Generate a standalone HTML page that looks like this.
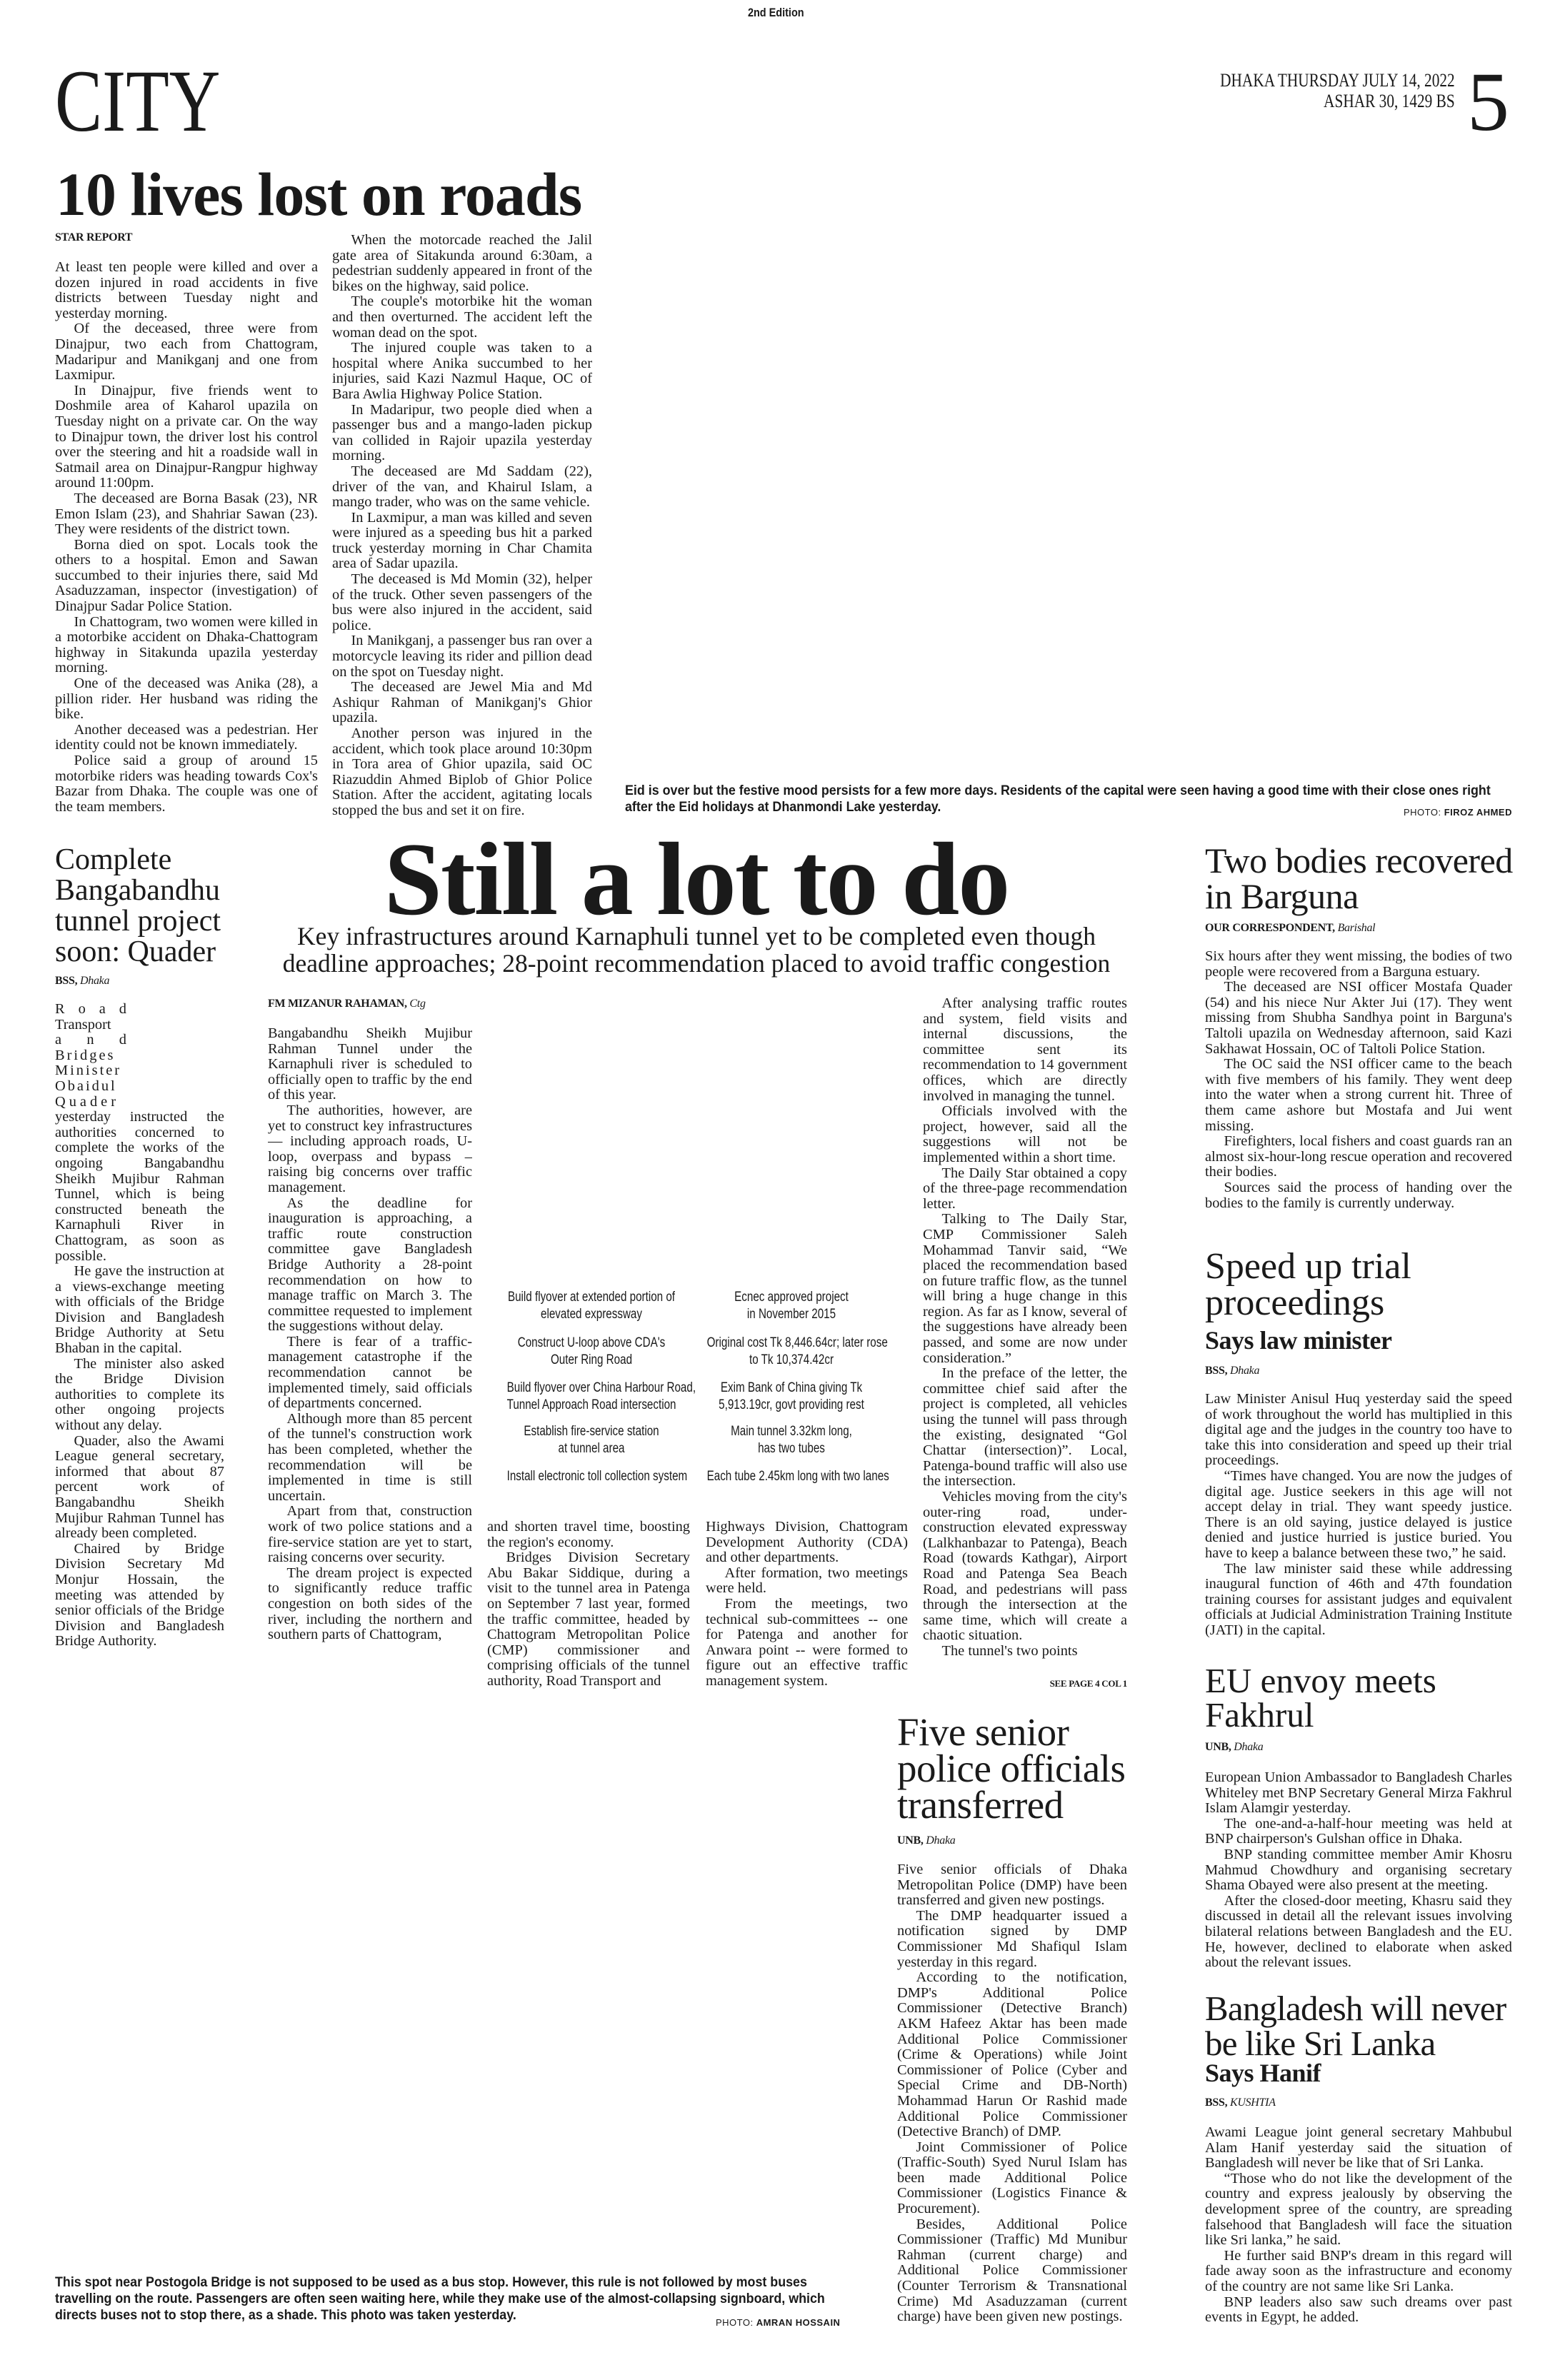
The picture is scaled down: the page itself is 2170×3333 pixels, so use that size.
<!DOCTYPE html>
<html><head><meta charset="utf-8">
<style>
*{margin:0;padding:0;box-sizing:border-box}
body{width:2170px;height:3333px;background:#fff;position:relative;overflow:hidden;color:#1a1a1a;font-family:"Liberation Serif",serif}
.a{position:absolute}
.b{font-size:20.4px;line-height:21.6px;text-align:justify;hyphens:auto;overflow:hidden}
.b p{text-indent:1.3em}
.b p.n{text-indent:0}
.by{font-size:16px;font-weight:bold;letter-spacing:-0.3px}
.by i{font-weight:normal}
.h{font-weight:normal;color:#1a1a1a}
.cap{font-family:"Liberation Sans",sans-serif;font-weight:bold;font-size:19px;line-height:23px;transform:scaleX(0.94);transform-origin:left top;white-space:nowrap}
.tb{font-family:"Liberation Sans",sans-serif;font-size:19px;line-height:24px;text-align:center;transform:scaleX(0.8);white-space:nowrap}
</style></head><body>

<div class="a" style="left:1040px;top:8px;font-family:'Liberation Sans',sans-serif;font-weight:bold;font-size:17px;transform:scaleX(0.85)">2nd Edition</div>
<div class="a" style="left:77px;top:82px;font-size:124px;line-height:120px;transform:scaleX(0.8);transform-origin:left top">CITY</div>
<div class="a" style="right:133px;top:98px;font-size:26px;line-height:29px;text-align:right;transform:scaleX(0.82);transform-origin:right top;white-space:nowrap">DHAKA THURSDAY JULY 14, 2022<br>ASHAR 30, 1429 BS</div>
<div class="a" style="left:2054px;top:88px;font-size:118px;line-height:110px">5</div>

<div class="a" style="left:78px;top:224px;font-size:86px;font-weight:bold;line-height:96px;white-space:nowrap;letter-spacing:-1px">10 lives lost on roads</div>
<div class="a by" style="left:77px;top:324px">STAR REPORT</div>

<div class="a b" style="left:77px;top:364px;width:368px;height:780px">
<p class="n">At least ten people were killed and over a dozen injured in road accidents in five districts between Tuesday night and yesterday morning.</p>
<p>Of the deceased, three were from Dinajpur, two each from Chattogram, Madaripur and Manikganj and one from Laxmipur.</p>
<p>In Dinajpur, five friends went to Doshmile area of Kaharol upazila on Tuesday night on a private car. On the way to Dinajpur town, the driver lost his control over the steering and hit a roadside wall in Satmail area on Dinajpur-Rangpur highway around 11:00pm.</p>
<p>The deceased are Borna Basak (23), NR Emon Islam (23), and Shahriar Sawan (23). They were residents of the district town.</p>
<p>Borna died on spot. Locals took the others to a hospital. Emon and Sawan succumbed to their injuries there, said Md Asaduzzaman, inspector (investigation) of Dinajpur Sadar Police Station.</p>
<p>In Chattogram, two women were killed in a motorbike accident on Dhaka-Chattogram highway in Sitakunda upazila yesterday morning.</p>
<p>One of the deceased was Anika (28), a pillion rider. Her husband was riding the bike.</p>
<p>Another deceased was a pedestrian. Her identity could not be known immediately.</p>
<p>Police said a group of around 15 motorbike riders was heading towards Cox's Bazar from Dhaka. The couple was one of the team members.</p>
</div>

<div class="a b" style="left:465px;top:326px;width:364px;height:820px">
<p>When the motorcade reached the Jalil gate area of Sitakunda around 6:30am, a pedestrian suddenly appeared in front of the bikes on the highway, said police.</p>
<p>The couple's motorbike hit the woman and then overturned. The accident left the woman dead on the spot.</p>
<p>The injured couple was taken to a hospital where Anika succumbed to her injuries, said Kazi Nazmul Haque, OC of Bara Awlia Highway Police Station.</p>
<p>In Madaripur, two people died when a passenger bus and a mango-laden pickup van collided in Rajoir upazila yesterday morning.</p>
<p>The deceased are Md Saddam (22), driver of the van, and Khairul Islam, a mango trader, who was on the same vehicle.</p>
<p>In Laxmipur, a man was killed and seven were injured as a speeding bus hit a parked truck yesterday morning in Char Chamita area of Sadar upazila.</p>
<p>The deceased is Md Momin (32), helper of the truck. Other seven passengers of the bus were also injured in the accident, said police.</p>
<p>In Manikganj, a passenger bus ran over a motorcycle leaving its rider and pillion dead on the spot on Tuesday night.</p>
<p>The deceased are Jewel Mia and Md Ashiqur Rahman of Manikganj's Ghior upazila.</p>
<p>Another person was injured in the accident, which took place around 10:30pm in Tora area of Ghior upazila, said OC Riazuddin Ahmed Biplob of Ghior Police Station. After the accident, agitating locals stopped the bus and set it on fire.</p>
</div>

<div class="a cap" style="left:875px;top:1096px">Eid is over but the festive mood persists for a few more days. Residents of the capital were seen having a good time with their close ones right<br>after the Eid holidays at Dhanmondi Lake yesterday.</div>
<div class="a" style="right:53px;top:1130px;font-family:'Liberation Sans',sans-serif;font-size:13px;letter-spacing:0.5px">PHOTO: <b>FIROZ AHMED</b></div>

<!-- Left column Quader -->
<div class="a h" style="left:77px;top:1183px;width:250px;font-size:42px;line-height:43px">Complete Bangabandhu tunnel project soon: Quader</div>
<div class="a by" style="left:77px;top:1365px">BSS, <i>Dhaka</i></div>
<div class="a b" style="left:77px;top:1403px;width:237px;height:960px">
<div style="width:100px;text-align:justify;text-align-last:justify">R o a d<br></div>
<div style="width:100px">Transport</div>
<div style="width:100px;text-align:justify;text-align-last:justify">a n d</div>
<div style="width:100px;letter-spacing:3px">Bridges</div>
<div style="width:100px;letter-spacing:3px">Minister</div>
<div style="width:100px;letter-spacing:3px">Obaidul</div>
<div style="width:100px;letter-spacing:5px">Quader</div>
<p class="n">yesterday instructed the authorities concerned to complete the works of the ongoing Bangabandhu Sheikh Mujibur Rahman Tunnel, which is being constructed beneath the Karnaphuli River in Chattogram, as soon as possible.</p>
<p>He gave the instruction at a views-exchange meeting with officials of the Bridge Division and Bangladesh Bridge Authority at Setu Bhaban in the capital.</p>
<p>The minister also asked the Bridge Division authorities to complete its other ongoing projects without any delay.</p>
<p>Quader, also the Awami League general secretary, informed that about 87 percent work of Bangabandhu Sheikh Mujibur Rahman Tunnel has already been completed.</p>
<p>Chaired by Bridge Division Secretary Md Monjur Hossain, the meeting was attended by senior officials of the Bridge Division and Bangladesh Bridge Authority.</p>
</div>

<!-- Main story -->
<div class="a" style="left:400px;width:1150px;top:1158px;font-size:146px;font-weight:bold;line-height:146px;text-align:center;white-space:nowrap;letter-spacing:-2px">Still a lot to do</div>
<div class="a" style="left:330px;width:1290px;top:1292px;font-size:35.5px;line-height:38px;text-align:center">Key infrastructures around Karnaphuli tunnel yet to be completed even though<br>deadline approaches; 28-point recommendation placed to avoid traffic congestion</div>
<div class="a by" style="left:375px;top:1397px">FM MIZANUR RAHAMAN, <i>Ctg</i></div>

<div class="a b" style="left:375px;top:1437px;width:286px;height:940px">
<p class="n">Bangabandhu Sheikh Mujibur Rahman Tunnel under the Karnaphuli river is scheduled to officially open to traffic by the end of this year.</p>
<p>The authorities, however, are yet to construct key infrastructures — including approach roads, U-loop, overpass and bypass – raising big concerns over traffic management.</p>
<p>As the deadline for inauguration is approaching, a traffic route construction committee gave Bangladesh Bridge Authority a 28-point recommendation on how to manage traffic on March 3. The committee requested to implement the suggestions without delay.</p>
<p>There is fear of a traffic-management catastrophe if the recommendation cannot be implemented timely, said officials of departments concerned.</p>
<p>Although more than 85 percent of the tunnel's construction work has been completed, whether the recommendation will be implemented in time is still uncertain.</p>
<p>Apart from that, construction work of two police stations and a fire-service station are yet to start, raising concerns over security.</p>
<p>The dream project is expected to significantly reduce traffic congestion on both sides of the river, including the northern and southern parts of Chattogram,</p>
</div>

<div class="a tb" style="left:680px;width:296px;top:1805px">Build flyover at extended portion of<br>elevated expressway</div>
<div class="a tb" style="left:680px;width:296px;top:1869px">Construct U-loop above CDA's<br>Outer Ring Road</div>
<div class="a tb" style="left:680px;width:296px;top:1932px">Build flyover over China Harbour Road,<br>Tunnel Approach Road intersection</div>
<div class="a tb" style="left:680px;width:296px;top:1993px">Establish fire-service station<br>at tunnel area</div>
<div class="a tb" style="left:680px;width:296px;top:2056px">Install electronic toll collection system</div>
<div class="a tb" style="left:960px;width:296px;top:1805px">Ecnec approved project<br>in November 2015</div>
<div class="a tb" style="left:960px;width:296px;top:1869px">Original cost Tk 8,446.64cr; later rose<br>to Tk 10,374.42cr</div>
<div class="a tb" style="left:960px;width:296px;top:1932px">Exim Bank of China giving Tk<br>5,913.19cr, govt providing rest</div>
<div class="a tb" style="left:960px;width:296px;top:1993px">Main tunnel 3.32km long,<br>has two tubes</div>
<div class="a tb" style="left:960px;width:296px;top:2056px">Each tube 2.45km long with two lanes</div>

<div class="a b" style="left:682px;top:2128px;width:284px;height:250px">
<p class="n">and shorten travel time, boosting the region's economy.</p>
<p>Bridges Division Secretary Abu Bakar Siddique, during a visit to the tunnel area in Patenga on September 7 last year, formed the traffic committee, headed by Chattogram Metropolitan Police (CMP) commissioner and comprising officials of the tunnel authority, Road Transport and</p>
</div>
<div class="a b" style="left:988px;top:2128px;width:283px;height:250px">
<p class="n">Highways Division, Chattogram Development Authority (CDA) and other departments.</p>
<p>After formation, two meetings were held.</p>
<p>From the meetings, two technical sub-committees -- one for Patenga and another for Anwara point -- were formed to figure out an effective traffic management system.</p>
</div>
<div class="a b" style="left:1292px;top:1395px;width:286px;height:955px">
<p>After analysing traffic routes and system, field visits and internal discussions, the committee sent its recommendation to 14 government offices, which are directly involved in managing the tunnel.</p>
<p>Officials involved with the project, however, said all the suggestions will not be implemented within a short time.</p>
<p>The Daily Star obtained a copy of the three-page recommendation letter.</p>
<p>Talking to The Daily Star, CMP Commissioner Saleh Mohammad Tanvir said, “We placed the recommendation based on future traffic flow, as the tunnel will bring a huge change in this region. As far as I know, several of the suggestions have already been passed, and some are now under consideration.”</p>
<p>In the preface of the letter, the committee chief said after the project is completed, all vehicles using the tunnel will pass through the existing, designated “Gol Chattar (intersection)”. Local, Patenga-bound traffic will also use the intersection.</p>
<p>Vehicles moving from the city's outer-ring road, under-construction elevated expressway (Lalkhanbazar to Patenga), Beach Road (towards Kathgar), Airport Road and Patenga Sea Beach Road, and pedestrians will pass through the intersection at the same time, which will create a chaotic situation.</p>
<p>The tunnel's two points</p>
</div>
<div class="a by" style="left:1400px;width:178px;top:2350px;text-align:right;font-size:13px">SEE PAGE 4 COL 1</div>

<!-- Five senior -->
<div class="a h" style="left:1256px;top:2400px;width:350px;font-size:55px;line-height:51px;letter-spacing:-0.5px">Five senior police officials transferred</div>
<div class="a by" style="left:1256px;top:2569px">UNB, <i>Dhaka</i></div>
<div class="a b" style="left:1256px;top:2608px;width:322px;height:650px">
<p class="n">Five senior officials of Dhaka Metropolitan Police (DMP) have been transferred and given new postings.</p>
<p>The DMP headquarter issued a notification signed by DMP Commissioner Md Shafiqul Islam yesterday in this regard.</p>
<p>According to the notification, DMP's Additional Police Commissioner (Detective Branch) AKM Hafeez Aktar has been made Additional Police Commissioner (Crime &amp; Operations) while Joint Commissioner of Police (Cyber and Special Crime and DB-North) Mohammad Harun Or Rashid made Additional Police Commissioner (Detective Branch) of DMP.</p>
<p>Joint Commissioner of Police (Traffic-South) Syed Nurul Islam has been made Additional Police Commissioner (Logistics Finance &amp; Procurement).</p>
<p>Besides, Additional Police Commissioner (Traffic) Md Munibur Rahman (current charge) and Additional Police Commissioner (Counter Terrorism &amp; Transnational Crime) Md Asaduzzaman (current charge) have been given new postings.</p>
</div>

<div class="a cap" style="left:77px;top:3185px">This spot near Postogola Bridge is not supposed to be used as a bus stop. However, this rule is not followed by most buses<br>travelling on the route. Passengers are often seen waiting here, while they make use of the almost-collapsing signboard, which<br>directs buses not to stop there, as a shade. This photo was taken yesterday.</div>
<div class="a" style="left:1002px;top:3245px;font-family:'Liberation Sans',sans-serif;font-size:13px;letter-spacing:0.5px">PHOTO: <b>AMRAN HOSSAIN</b></div>

<!-- Right column -->
<div class="a h" style="left:1687px;top:1180px;width:450px;font-size:50px;line-height:50px;letter-spacing:-0.5px">Two bodies recovered in Barguna</div>
<div class="a by" style="left:1687px;top:1291px">OUR CORRESPONDENT, <i>Barishal</i></div>
<div class="a b" style="left:1687px;top:1329px;width:430px;height:390px">
<p class="n">Six hours after they went missing, the bodies of two people were recovered from a Barguna estuary.</p>
<p>The deceased are NSI officer Mostafa Quader (54) and his niece Nur Akter Jui (17). They went missing from Shubha Sandhya point in Barguna's Taltoli upazila on Wednesday afternoon, said Kazi Sakhawat Hossain, OC of Taltoli Police Station.</p>
<p>The OC said the NSI officer came to the beach with five members of his family. They went deep into the water when a strong current hit. Three of them came ashore but Mostafa and Jui went missing.</p>
<p>Firefighters, local fishers and coast guards ran an almost six-hour-long rescue operation and recovered their bodies.</p>
<p>Sources said the process of handing over the bodies to the family is currently underway.</p>
</div>

<div class="a h" style="left:1687px;top:1748px;width:430px;font-size:52px;line-height:51px">Speed up trial proceedings</div>
<div class="a" style="left:1687px;top:1857px;font-size:36px;font-weight:bold;line-height:40px;letter-spacing:-0.5px">Says law minister</div>
<div class="a by" style="left:1687px;top:1911px">BSS, <i>Dhaka</i></div>
<div class="a b" style="left:1687px;top:1949px;width:430px;height:345px">
<p class="n">Law Minister Anisul Huq yesterday said the speed of work throughout the world has multiplied in this digital age and the judges in the country too have to take this into consideration and speed up their trial proceedings.</p>
<p>“Times have changed. You are now the judges of digital age. Justice seekers in this age will not accept delay in trial. They want speedy justice. There is an old saying, justice delayed is justice denied and justice hurried is justice buried. You have to keep a balance between these two,” he said.</p>
<p>The law minister said these while addressing inaugural function of 46th and 47th foundation training courses for assistant judges and equivalent officials at Judicial Administration Training Institute (JATI) in the capital.</p>
</div>

<div class="a h" style="left:1687px;top:2330px;width:430px;font-size:49px;line-height:48px">EU envoy meets Fakhrul</div>
<div class="a by" style="left:1687px;top:2438px">UNB, <i>Dhaka</i></div>
<div class="a b" style="left:1687px;top:2479px;width:430px;height:285px">
<p class="n">European Union Ambassador to Bangladesh Charles Whiteley met BNP Secretary General Mirza Fakhrul Islam Alamgir yesterday.</p>
<p>The one-and-a-half-hour meeting was held at BNP chairperson's Gulshan office in Dhaka.</p>
<p>BNP standing committee member Amir Khosru Mahmud Chowdhury and organising secretary Shama Obayed were also present at the meeting.</p>
<p>After the closed-door meeting, Khasru said they discussed in detail all the relevant issues involving bilateral relations between Bangladesh and the EU. He, however, declined to elaborate when asked about the relevant issues.</p>
</div>

<div class="a h" style="left:1687px;top:2788px;width:450px;font-size:49px;line-height:49px;letter-spacing:-0.8px">Bangladesh will never be like Sri Lanka</div>
<div class="a" style="left:1687px;top:2883px;font-size:36px;font-weight:bold;line-height:40px;letter-spacing:-0.5px">Says Hanif</div>
<div class="a by" style="left:1687px;top:2936px">BSS, <i>KUSHTIA</i></div>
<div class="a b" style="left:1687px;top:2976px;width:430px;height:290px">
<p class="n">Awami League joint general secretary Mahbubul Alam Hanif yesterday said the situation of Bangladesh will never be like that of Sri Lanka.</p>
<p>“Those who do not like the development of the country and express jealously by observing the development spree of the country, are spreading falsehood that Bangladesh will face the situation like Sri lanka,” he said.</p>
<p>He further said BNP's dream in this regard will fade away soon as the infrastructure and economy of the country are not same like Sri Lanka.</p>
<p>BNP leaders also saw such dreams over past events in Egypt, he added.</p>
</div>

</body></html>
